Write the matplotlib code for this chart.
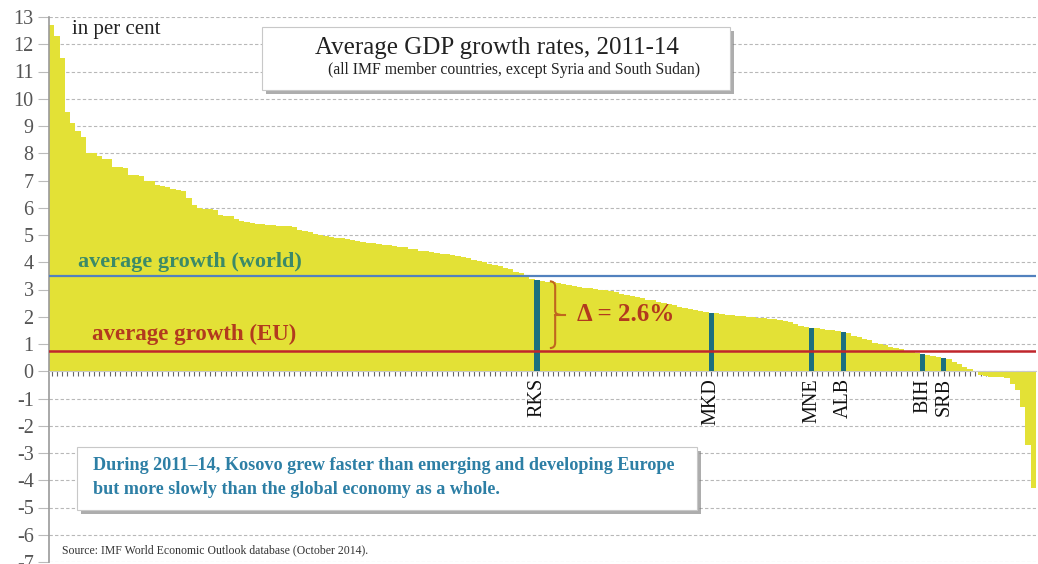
import matplotlib
matplotlib.use("Agg")
import matplotlib.pyplot as plt
import matplotlib.patches as mpatches
import matplotlib.patheffects as pe
from matplotlib.path import Path

# Average real GDP growth 2011-14, per cent, countries sorted high to low
growth = [
    12.7, 12.3, 11.5, 9.5, 9.1, 8.8, 8.6, 8.0, 8.0, 7.9,
    7.8, 7.8, 7.5, 7.5, 7.45, 7.2, 7.2, 7.15, 7.0, 7.0,
    6.85, 6.8, 6.75, 6.7, 6.65, 6.6, 6.35, 6.1, 6.0, 5.97,
    5.95, 5.9, 5.75, 5.7, 5.68, 5.6, 5.5, 5.47, 5.45, 5.42,
    5.4, 5.37, 5.35, 5.34, 5.33, 5.32, 5.3, 5.18, 5.15, 5.1,
    5.05, 5.0, 4.97, 4.93, 4.9, 4.88, 4.85, 4.82, 4.78, 4.75,
    4.72, 4.7, 4.67, 4.65, 4.62, 4.6, 4.57, 4.55, 4.5, 4.47,
    4.43, 4.4, 4.37, 4.35, 4.32, 4.3, 4.27, 4.24, 4.2, 4.15,
    4.1, 4.05, 4.0, 3.95, 3.9, 3.85, 3.8, 3.77, 3.65, 3.6,
    3.5, 3.4, 3.35, 3.3, 3.28, 3.27, 3.25, 3.2, 3.15, 3.12,
    3.1, 3.07, 3.05, 3.03, 3.0, 2.97, 2.93, 2.9, 2.85, 2.8,
    2.76, 2.72, 2.68, 2.63, 2.6, 2.55, 2.5, 2.46, 2.42, 2.37,
    2.33, 2.3, 2.25, 2.2, 2.18, 2.15, 2.12, 2.1, 2.08, 2.06,
    2.04, 2.02, 2.0, 1.98, 1.96, 1.94, 1.92, 1.9, 1.87, 1.85,
    1.8, 1.72, 1.66, 1.62, 1.6, 1.58, 1.55, 1.52, 1.5, 1.48,
    1.45, 1.4, 1.3, 1.25, 1.2, 1.15, 1.05, 1.0, 0.95, 0.9,
    0.85, 0.8, 0.75, 0.7, 0.66, 0.62, 0.58, 0.55, 0.52, 0.5,
    0.45, 0.35, 0.25, 0.15, 0.08, 0.0, -0.15, -0.17, -0.2, -0.2,
    -0.22, -0.25, -0.45, -0.7, -1.3, -2.7, -4.3,
]

# Western Balkan economies: label and rank position in the sorted list
wb_labels = ["RKS", "MKD", "MNE", "ALB", "BIH", "SRB"]
wb_index = [92, 125, 144, 150, 165, 169]

world_avg = 3.5
eu_avg = 0.75

yticks = list(range(-7, 14))

SERIF = ["Liberation Serif", "DejaVu Serif"]
plt.rcParams["font.family"] = SERIF

YELLOW = "#E3E136"
TEAL = "#1C6F7E"
WORLD_LINE = "#5281BE"
WORLD_TXT = "#3B8A68"
EU_LINE = "#C0262C"
EU_TXT = "#B23A1E"
BRACE = "#C0661E"
NOTE_TXT = "#2D7FA5"

fig = plt.figure(figsize=(10.38, 5.64), dpi=100)
ax = fig.add_axes([49 / 1038, 2 / 564, 987 / 1038, 545 / 564])

n = len(growth)
x = list(range(n))
ax.bar(x, growth, width=1.0, color=YELLOW, linewidth=0, zorder=2)

# highlight Western Balkan countries
wb_vals = [growth[i] for i in wb_index]
ax.bar(wb_index, wb_vals, width=1.05, color=TEAL, linewidth=0, zorder=4)
for lab, i in zip(wb_labels, wb_index):
    ax.text(i, -0.25, lab, rotation=90, ha="center", va="top",
            fontsize=14.5, color="#111111", zorder=6)

# average lines
ax.axhline(world_avg, color=WORLD_LINE, lw=1.6, zorder=3)
ax.axhline(eu_avg, color=EU_LINE, lw=1.8, zorder=5)
ax.text(4.9, world_avg + 0.5, "average growth (world)", color=WORLD_TXT,
        fontsize=16, fontweight="bold", va="center", ha="left", zorder=6)
ax.text(7.7, eu_avg + 0.6, "average growth (EU)", color=EU_TXT,
        fontsize=16.5, fontweight="bold", va="center", ha="left", zorder=6)

# brace showing the gap between Kosovo and the EU average
rks_val = growth[wb_index[0]]
delta = rks_val - eu_avg
bx = wb_index[0] + 3.4
top = rks_val - 0.05
bot = eu_avg + 0.1
mid = (top + bot) / 2
w = 1.0
verts = [
    (bx - w, top), (bx, top), (bx, top - 0.2),
    (bx, mid + 0.15), (bx, mid), (bx + w, mid),
    (bx, mid), (bx, mid - 0.15),
    (bx, bot + 0.2), (bx, bot), (bx - w, bot),
]
codes = [Path.MOVETO, Path.CURVE3, Path.CURVE3,
         Path.LINETO, Path.CURVE3, Path.CURVE3,
         Path.MOVETO, Path.LINETO,
         Path.LINETO, Path.CURVE3, Path.CURVE3]
ax.add_patch(mpatches.PathPatch(Path(verts, codes), fill=False,
                                edgecolor=BRACE, lw=1.5, zorder=6))
ax.plot([bx, bx + 1.8], [mid, mid], color=BRACE, lw=1.5, zorder=6)
ax.text(bx + 4.2, mid, f"\u0394 = {delta:.1f}%", color=EU_TXT, fontsize=18,
        fontweight="bold", va="center", ha="left", zorder=6)

# axes styling
ax.set_xlim(-0.5, n - 0.5)
ax.set_ylim(-7, 13)
ax.set_yticks(yticks)
ax.set_yticklabels([str(t) for t in yticks])
ax.grid(axis="y", color="#B8B8B8", linestyle=(0, (3, 2)), lw=0.8, zorder=1)
ax.set_axisbelow(True)
for s in ["top", "right"]:
    ax.spines[s].set_visible(False)
ax.spines["left"].set_color("#9A9A9A")
ax.spines["left"].set_linewidth(1.2)
ax.spines["bottom"].set_position(("data", 0))
ax.spines["bottom"].set_color("#C8C8C8")
ax.spines["bottom"].set_linewidth(0.8)
ax.spines["bottom"].set_zorder(3)
ax.set_xticks(x)
ax.tick_params(axis="x", length=3.5, width=0.8, color="#666666",
               labelbottom=False, direction="out")
ax.tick_params(axis="y", length=8, width=0.8, color="#BBBBBB",
               labelsize=14.5, labelcolor="#555555", pad=3)

ax.text(3.8, 12.55, "in per cent", fontsize=15, color="#222222",
        va="center", ha="left", zorder=6)

shadow = [pe.SimplePatchShadow(offset=(3, -3), shadow_rgbFace="#777777", alpha=0.6),
          pe.Normal()]

# title box
tb = mpatches.Rectangle((262 / 1038, 1 - 90 / 564), 468 / 1038, 63 / 564,
                        transform=fig.transFigure, facecolor="white",
                        edgecolor="#C8C8C8", lw=0.8, zorder=10)
tb.set_path_effects(shadow)
fig.patches.append(tb)
fig.text(497 / 1038, 1 - 48 / 564, "Average GDP growth rates, 2011-14",
         fontsize=18, color="#222222", ha="center", va="center", zorder=11)
fig.text(514 / 1038, 1 - 70 / 564,
         "(all IMF member countries, except Syria and South Sudan)",
         fontsize=11.3, color="#222222", ha="center", va="center", zorder=11)

# conclusion box
nb = mpatches.Rectangle((77 / 1038, 1 - 510 / 564), 620 / 1038, 63 / 564,
                        transform=fig.transFigure, facecolor="white",
                        edgecolor="#C8C8C8", lw=0.8, zorder=10)
nb.set_path_effects(shadow)
fig.patches.append(nb)
fig.text(93 / 1038, 1 - 466 / 564,
         "During 2011\u201314, Kosovo grew faster than emerging and developing Europe",
         fontsize=13.1, fontweight="bold", color=NOTE_TXT, ha="left", va="center", zorder=11)
fig.text(93 / 1038, 1 - 490 / 564,
         "but more slowly than the global economy as a whole.",
         fontsize=13.1, fontweight="bold", color=NOTE_TXT, ha="left", va="center", zorder=11)

fig.text(62 / 1038, 1 - 550 / 564,
         "Source: IMF World Economic Outlook database (October 2014).",
         fontsize=8.5, color="#333333", ha="left", va="center", zorder=11)

fig.savefig("out.png", dpi=100, facecolor="white")
